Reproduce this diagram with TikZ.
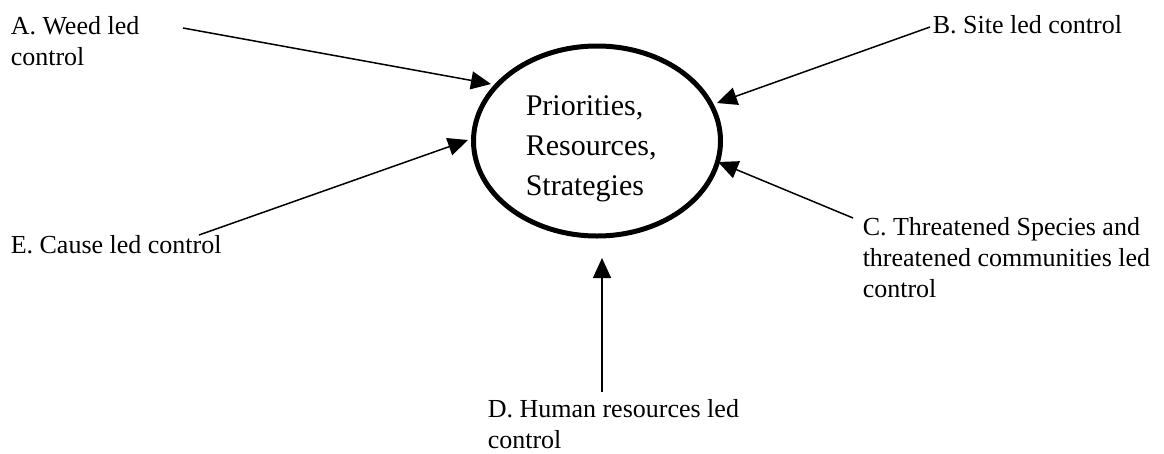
\documentclass[tikz,border=0pt]{standalone}
\usepackage{fontspec}
\setmainfont{Liberation Serif}
\usetikzlibrary{shapes.geometric,arrows.meta}
\tikzset{
	lbl/.style={anchor=base west,inner sep=0pt,align=left,font=\fontsize{26}{31}\selectfont},
	hub/.style={ellipse,draw,line width=5pt,minimum width=247pt,minimum height=190pt,inner sep=0pt},
	hubtext/.style={anchor=base west,inner sep=0pt,align=left,font=\fontsize{30}{40}\selectfont}
}
\begin{document}
\begin{tikzpicture}[x=1pt,y=-1pt,line join = round,>={Triangle[length=20pt,width=18pt]},line width=1.5pt]
		\useasboundingbox (0,0) rectangle (1164,453);
		% centre ellipse, text placed by its last baseline
		\node[hub] (prio) at (597,141) {};
		\node[hubtext] (priotext) at (525,195) {Priorities,\\Resources,\\Strategies};
		\node[lbl] (weed) at (10,65) {A. Weed led\\control};
		\node[lbl] (site) at (932,33) {B. Site led control};
		\node[lbl] (threat) at (862,297) {C. Threatened Species and\\threatened communities led\\control};
		\node[lbl] (human) at (487,448) {D. Human resources led\\control};
		\node[lbl] (cause) at (10,253) {E. Cause led control};
		\coordinate (a0) at (183,28); \coordinate (a1) at (491,84);
		\coordinate (b0) at (930,27); \coordinate (b1) at (717,103);
		\coordinate (c0) at (853,218); \coordinate (c1) at (718,162);
		\coordinate (d0) at (602,392); \coordinate (d1) at (602,258);
		\coordinate (e0) at (199,235); \coordinate (e1) at (468,140);
		\foreach \src in {a,b,c,d,e}{\draw[->] (\src0)--(\src1);}
	\end{tikzpicture}
\end{document}
